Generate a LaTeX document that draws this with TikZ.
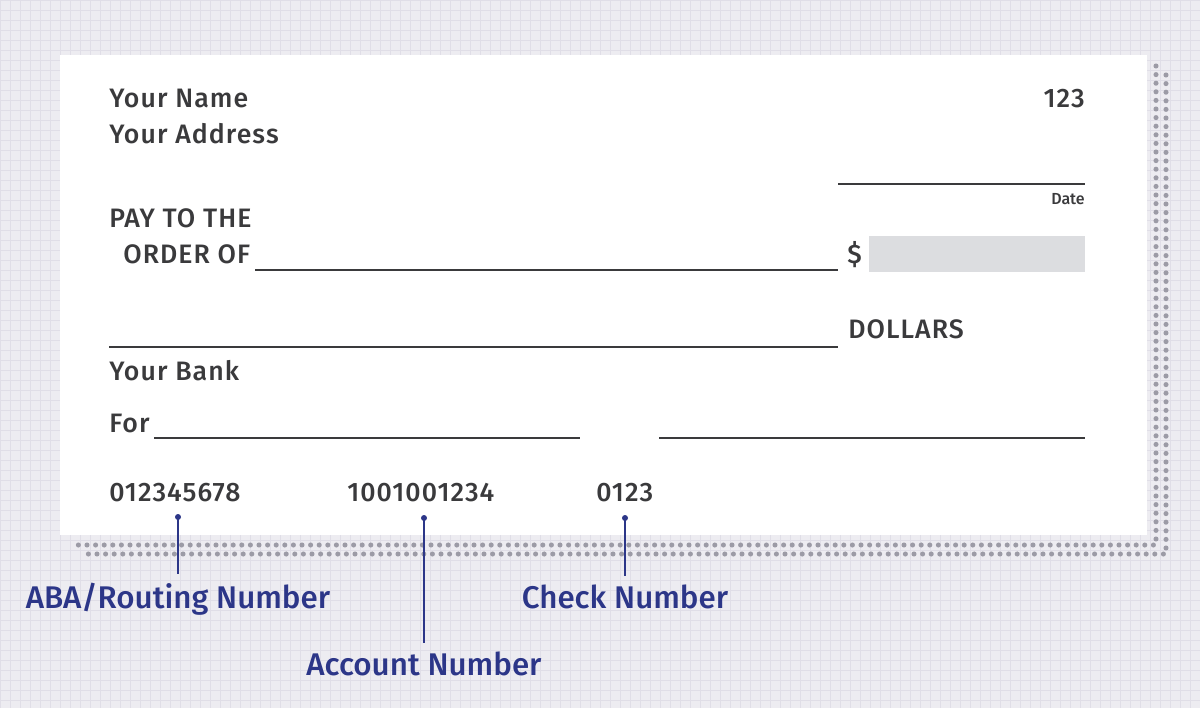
\documentclass[tikz,border=0pt]{standalone}
\usepackage{fontspec}
\setmainfont{Fira Sans}[UprightFont=* Medium]
\newfontfamily\checkfont{Fira Sans}[UprightFont=* Medium, LetterSpace=4]
\definecolor{paper}{HTML}{EDECF1}
\definecolor{gridline}{HTML}{E0DEE7}
\definecolor{ink}{HTML}{3A3A3C}
\definecolor{navy}{HTML}{2C3688}
\definecolor{dotgrey}{HTML}{9C9BA6}
\definecolor{boxgrey}{HTML}{DCDDE0}
\tikzset{
chk/.style={inner sep=0pt, text=ink, font=\checkfont\fontsize{20}{24}\selectfont},
small/.style={inner sep=0pt, text=ink, font=\fontsize{12}{14}\selectfont},
rule/.style={draw=ink, line width=1.5pt},
callout/.style={inner xsep=0pt, inner ysep=6pt, text=navy, font=\fontsize{23.5}{28}\selectfont},
pointer/.style={draw=navy, line width=1.3pt},
shadowdots/.style={draw=dotgrey, line width=3.8pt, line cap=round, dash pattern=on 0pt off 6.45pt}}

\begin{document}
\begin{tikzpicture}[x=0.75pt,y=-0.75pt]

                % 1200 x 708 px, y goes down
                \useasboundingbox (0,0) rectangle (1200,708);
                \fill[paper] (0,0) rectangle (1200,708);
                \foreach \gx in {0,10,...,1200}
                    \draw[gridline, line width=0.5pt] (\gx,0) -- (\gx,708);
                \foreach \gy in {0,10,...,700}
                    \draw[gridline, line width=0.5pt] (0,\gy) -- (1200,\gy);

                % dotted shadow of the check
                \draw[shadowdots] (1156,66) -- (1156,545) -- (74,545);
                \draw[shadowdots] (1166,75) -- (1166,554) -- (83,554);

                % the check
                \fill[white] (60,55) rectangle (1147,535);

                \node[chk, anchor=base west] (name) at (109,107) {Your Name};
                \node[chk, anchor=base west] (address) at (109,143) {Your Address};
                \node[chk, anchor=base east] (number) at (1085,107) {123};

                \draw[rule] (838,184) -- (1085,184);
                \node[small, anchor=base east] (date) at (1085,204) {Date};

                \node[chk, anchor=base west] (payto) at (109,227) {PAY TO THE};
                \node[chk, anchor=base west] (order) at (123,263) {ORDER OF};
                \draw[rule] (255,270) -- (838,270);
                \node[chk, anchor=base west] (dollar) at (847,263) {\$};
                \fill[boxgrey] (869,236) rectangle (1085,272);

                \draw[rule] (109,347) -- (838,347);
                \node[chk, anchor=base west] (dollars) at (848,338) {DOLLARS};

                \node[chk, anchor=base west] (bank) at (109,380) {Your Bank};
                \node[chk, anchor=base west] (for) at (109,432) {For};
                \draw[rule] (154,438) -- (580,438);
                \draw[rule] (659,438) -- (1085,438);

                \node[chk, anchor=base west] (routing) at (109,501) {012345678};
                \node[chk, anchor=base west] (account) at (347,501) {1001001234};
                \node[chk, anchor=base west] (checkno) at (596,501) {0123};

                % labels under the check
                \coordinate (p1) at (178,517);
                \coordinate (p2) at (424,518);
                \coordinate (p3) at (625,518);
                \node[callout, anchor=base] (aba) at (178,608) {ABA/Routing Number};
                \node[callout, anchor=base] (acc) at (424,675) {Account Number};
                \node[callout, anchor=base] (chk) at (625,608) {Check Number};

                \foreach \p/\l in {p1/aba, p2/acc, p3/chk}{
                    \fill[navy] (\p) circle (3);
                    \draw[pointer] (\p) -- (\l.north);
                }

\end{tikzpicture}
\end{document}
